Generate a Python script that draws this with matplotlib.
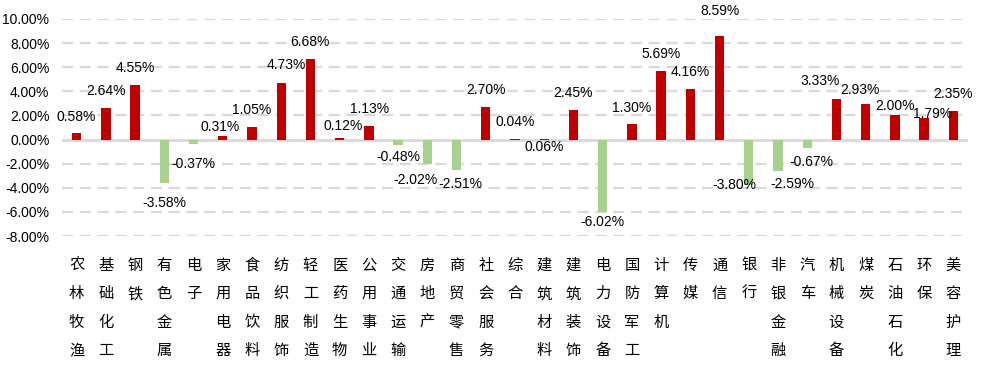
import matplotlib
matplotlib.use("Agg")
import matplotlib.pyplot as plt
from matplotlib.ticker import FuncFormatter

categories = ["农林牧渔", "基础化工", "钢铁", "有色金属", "电子", "家用电器", "食品饮料",
              "纺织服饰", "轻工制造", "医药生物", "公用事业", "交通运输", "房地产", "商贸零售",
              "社会服务", "综合", "建筑材料", "建筑装饰", "电力设备", "国防军工", "计算机",
              "传媒", "通信", "银行", "非银金融", "汽车", "机械设备", "煤炭", "石油石化",
              "环保", "美容护理"]
values = [0.58, 2.64, 4.55, -3.58, -0.37, 0.31, 1.05, 4.73, 6.68, 0.12, 1.13, -0.48,
          -2.02, -2.51, 2.70, 0.04, 0.06, 2.45, -6.02, 1.30, 5.69, 4.16, 8.59, -3.80,
          -2.59, -0.67, 3.33, 2.93, 2.00, 1.79, 2.35]
yticks = [-8, -6, -4, -2, 0, 2, 4, 6, 8, 10]

# label offsets (pixels) from bar end, mimicking the reference placement
label_offsets = [(0, 16), (0, 17), (0, 17), (0, -20), (0, -20), (-3, 9), (0, 17), (5, 18),
                 (0, 17), (4, 12), (1, 17), (0, -12), (-12, -16), (4, -14), (0, 17), (0, 17),
                 (0, -8), (0, 17), (0, -10), (0, 16), (0, 17), (0, 17), (0, 25), (-14, 0),
                 (14, -13), (4, -14), (-16, 18), (-6, 14), (0, 9), (8, 4), (0, 17)]

RED = "#C00000"
GREEN = "#A9D18E"
GRID = "#D9D9D9"

plt.rcParams['font.family'] = ['Liberation Sans', 'DejaVu Sans']

fig = plt.figure(figsize=(9.84, 3.73), dpi=100)
ax = fig.add_axes([62/984, 1-236/373, (968-62)/984, (236-19)/373])

x = list(range(len(categories)))
colors = [RED if v >= 0 else GREEN for v in values]
ax.bar(x, values, width=0.32, color=colors, zorder=3)

ax.set_xlim(-0.5, len(categories) - 0.5)
ax.set_ylim(-8, 10)
ax.set_yticks(yticks)
ax.yaxis.set_major_formatter(FuncFormatter(lambda v, p: f"{v:.2f}%"))
for t in yticks:
    if t == 0:
        ax.axhline(0, color=GRID, lw=2, zorder=2)
    else:
        ax.axhline(t, color=GRID, lw=1.6, ls=(0, (5, 3)), zorder=1)

for s in ax.spines.values():
    s.set_visible(False)
ax.tick_params(axis='y', length=0, pad=9, labelsize=10, labelcolor="#000000")
ax.tick_params(axis='x', length=0, pad=15)
ax.set_xticks(x)
ax.set_xticklabels(["\n".join(c) for c in categories], fontsize=11,
                   family=['Noto Sans CJK SC', 'DejaVu Sans'], linespacing=1.88, va='top')

for i, v in enumerate(values):
    dx, dy = label_offsets[i]
    ax.annotate(f"{v:.2f}%", xy=(i, v), xytext=(dx, dy), textcoords='offset pixels',
                ha='center', va='center', fontsize=10, color="#000000", zorder=4)

fig.savefig("out.png", dpi=100)
